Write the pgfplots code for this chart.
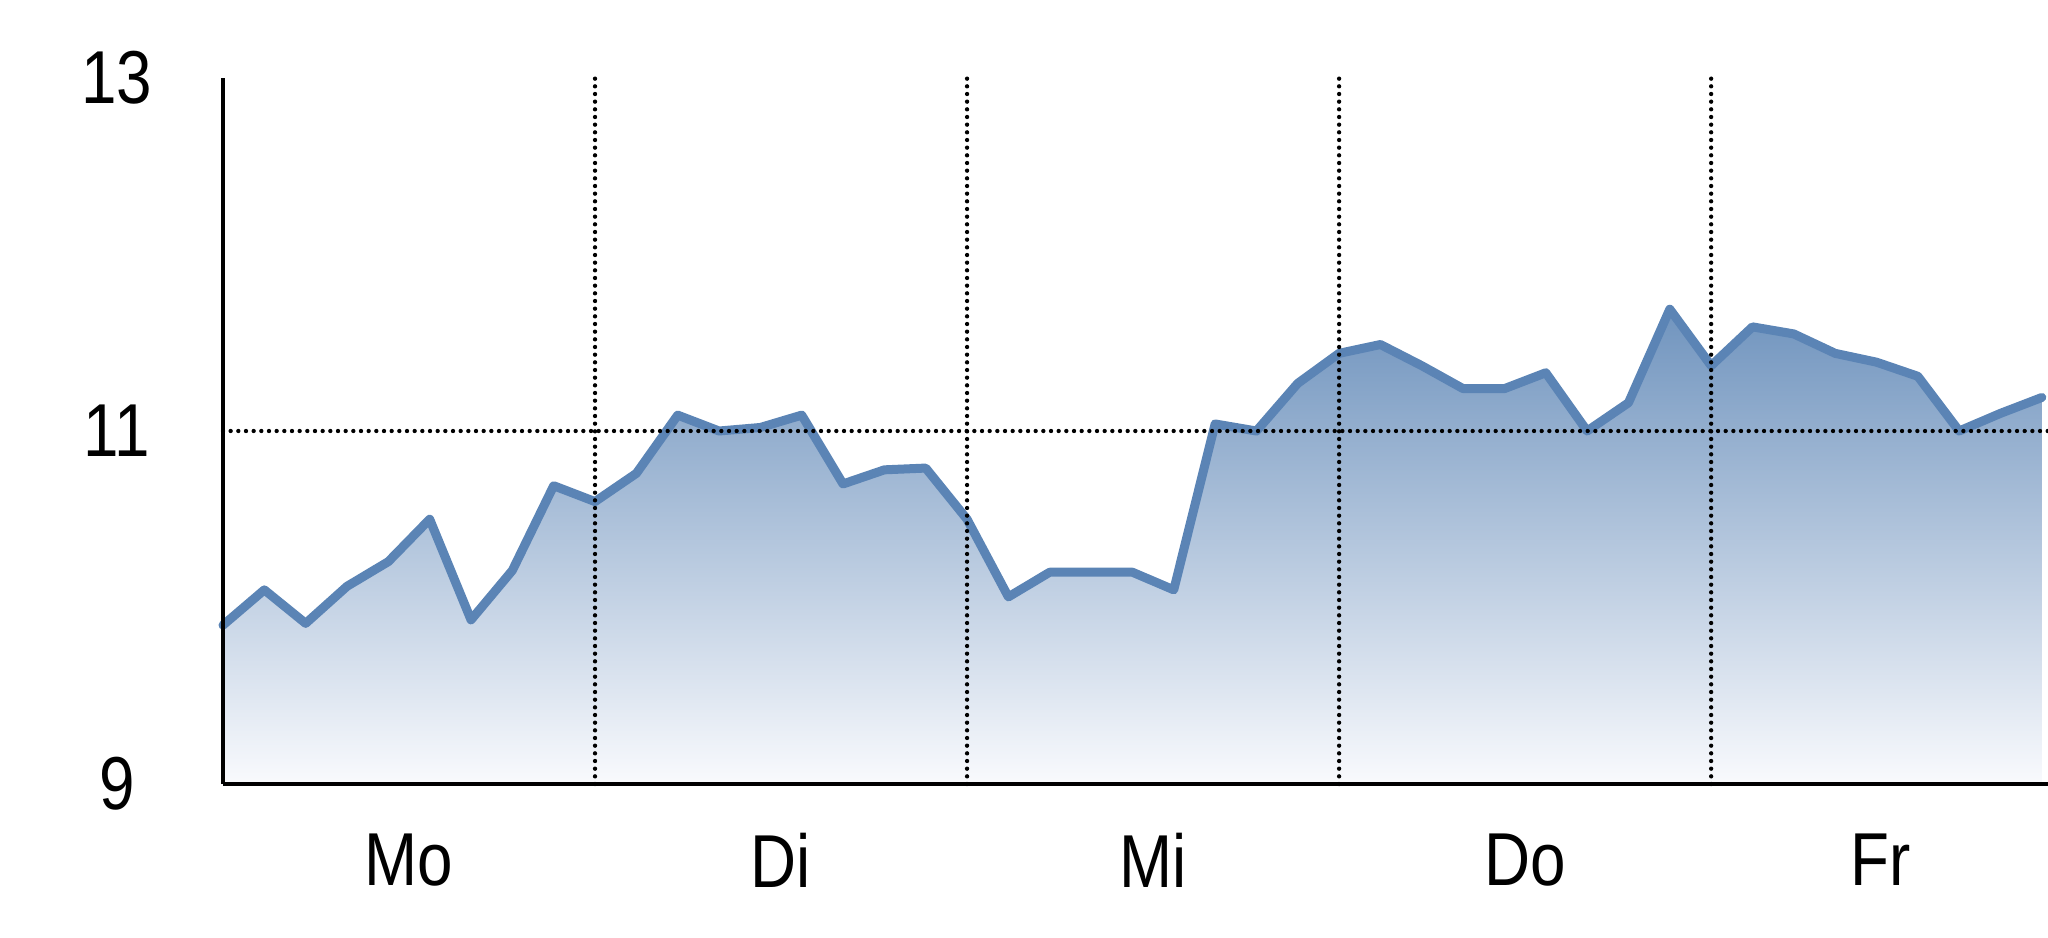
\documentclass[border=0pt]{standalone}
\usepackage{fontspec}
\setmainfont[FakeStretch=0.85]{Liberation Sans}
\usepackage{pgfplots}
\pgfplotsset{compat=1.18}
\definecolor{lineblue}{RGB}{91,132,181}
\definecolor{filltop}{RGB}{112,148,190}
\definecolor{fillbottom}{RGB}{249,250,253}

\begin{document}
\begin{tikzpicture}
\useasboundingbox (-66.9pt,-45.9pt) rectangle (547.5pt,235.2pt);
\begin{axis}[
    scale only axis,
    width=547.5pt,
    height=211.8pt,
    xmin=0, xmax=44.15,
    ymin=9, ymax=13,
    axis on top,
    clip=false,
    axis x line*=bottom,
    axis y line*=left,
    axis line style={black, line width=1pt},
    major tick length=0pt,
    xtick={4.5,13.5,22.5,31.5,40.1},
    xticklabels={Mo,Di,Mi,Do,Fr},
    ytick={9,11,13},
    extra x ticks={9,18,27,36},
    extra x tick labels={},
    extra x tick style={grid=major},
    extra y ticks={11},
    extra y tick labels={},
    extra y tick style={grid=major},
    major grid style={black, line width=1.3pt, line cap=round, dash pattern=on 0pt off 2.3pt},
    /pgf/number format/assume math mode=true,
    tick label style={font=\fontsize{22.5}{27}\selectfont},
    xticklabel style={anchor=center, yshift=-22.8pt},
    yticklabel style={anchor=center, xshift=-31.8pt},
]
% Kursverlauf, 9 Werte je Tag
\addplot[draw=none, top color=filltop, bottom color=fillbottom] table[row sep=\\] {
x y\\
0 9.90\\ 1 10.10\\ 2 9.91\\ 3 10.12\\ 4 10.26\\ 5 10.50\\ 6 9.93\\ 7 10.21\\ 8 10.69\\
9 10.60\\ 10 10.76\\ 11 11.09\\ 12 11.00\\ 13 11.02\\ 14 11.09\\ 15 10.70\\ 16 10.78\\ 17 10.79\\
18 10.50\\ 19 10.06\\ 20 10.20\\ 21 10.20\\ 22 10.20\\ 23 10.10\\ 24 11.04\\ 25 11.00\\ 26 11.27\\
27 11.44\\ 28 11.49\\ 29 11.37\\ 30 11.24\\ 31 11.24\\ 32 11.33\\ 33 11.00\\ 34 11.16\\ 35 11.69\\
36 11.37\\ 37 11.59\\ 38 11.55\\ 39 11.44\\ 40 11.39\\ 41 11.31\\ 42 11.00\\ 43 11.10\\ 44 11.19\\
} \closedcycle;
\addplot[lineblue, line width=2.7pt, line join=round, line cap=round] table[row sep=\\] {
x y\\
0 9.90\\ 1 10.10\\ 2 9.91\\ 3 10.12\\ 4 10.26\\ 5 10.50\\ 6 9.93\\ 7 10.21\\ 8 10.69\\
9 10.60\\ 10 10.76\\ 11 11.09\\ 12 11.00\\ 13 11.02\\ 14 11.09\\ 15 10.70\\ 16 10.78\\ 17 10.79\\
18 10.50\\ 19 10.06\\ 20 10.20\\ 21 10.20\\ 22 10.20\\ 23 10.10\\ 24 11.04\\ 25 11.00\\ 26 11.27\\
27 11.44\\ 28 11.49\\ 29 11.37\\ 30 11.24\\ 31 11.24\\ 32 11.33\\ 33 11.00\\ 34 11.16\\ 35 11.69\\
36 11.37\\ 37 11.59\\ 38 11.55\\ 39 11.44\\ 40 11.39\\ 41 11.31\\ 42 11.00\\ 43 11.10\\ 44 11.19\\
};
\end{axis}
\end{tikzpicture}
\end{document}
